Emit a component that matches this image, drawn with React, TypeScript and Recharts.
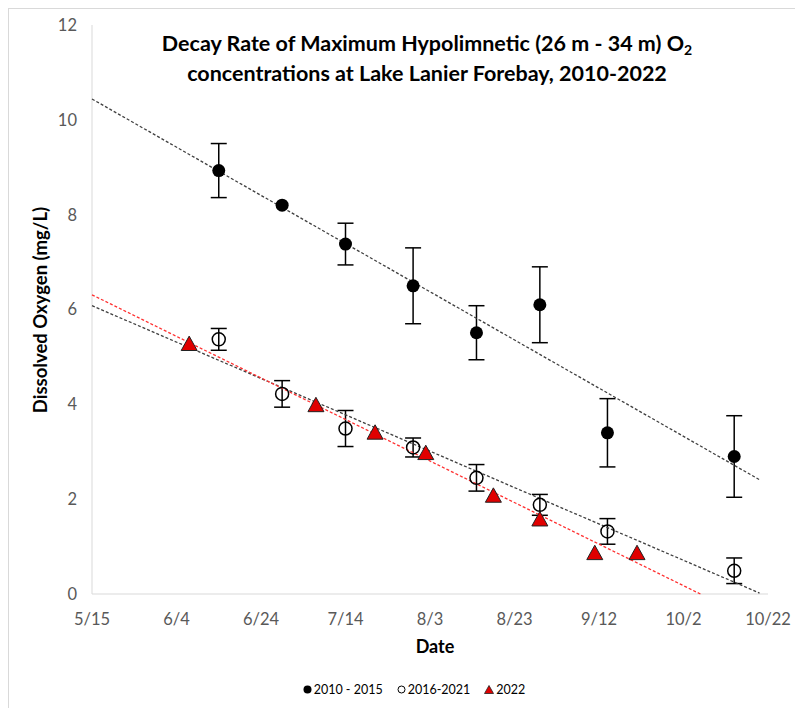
import { ScatterChart, Scatter, XAxis, YAxis, ErrorBar } from 'recharts'

// days since 5/15
const xTicks = [0, 20, 40, 60, 80, 100, 120, 140, 160]
const xTickLabels = ['5/15', '6/4', '6/24', '7/14', '8/3', '8/23', '9/12', '10/2', '10/22']
const yTicks = [0, 2, 4, 6, 8, 10, 12]

const surveyDays = [30, 45, 60, 76, 91, 106, 122, 152]
const o2Early = [8.93, 8.2, 7.38, 6.5, 5.51, 6.1, 3.4, 2.9]
const errEarly = [0.57, 0, 0.44, 0.8, 0.57, 0.8, 0.72, 0.86]
const o2Late = [5.37, 4.22, 3.49, 3.09, 2.45, 1.88, 1.32, 0.49]
const errLate = [0.23, 0.28, 0.38, 0.2, 0.28, 0.22, 0.27, 0.27]

const days2022 = [23, 53, 67, 79, 95, 106, 119, 129]
const o2_2022 = [5.27, 3.98, 3.4, 2.97, 2.07, 1.57, 0.86, 0.86]

// trendline end points
const trendDaysEarly = [0, 158]
const trendEarly = [10.44, 2.41]
const trendDaysLate = [0, 158]
const trendLate = [6.08, 0.02]
const trendDays2022 = [0, 144]
const trend2022 = [6.31, 0]

const FONT = 'Lato, "Open Sans", sans-serif'

const earlyData = surveyDays.map((d, i) => ({ x: d, y: o2Early[i], err: errEarly[i] }))
const lateData = surveyDays.map((d, i) => ({ x: d, y: o2Late[i], err: errLate[i] }))
const data2022 = days2022.map((d, i) => ({ x: d, y: o2_2022[i] }))
const toLine = (xs: number[], ys: number[]) => xs.map((x, i) => ({ x, y: ys[i] }))

const FilledDot = (p: any) => <circle cx={p.cx} cy={p.cy} r={6.5} fill="#000" />
const OpenDot = (p: any) => <circle cx={p.cx} cy={p.cy} r={6.5} fill="none" stroke="#000" strokeWidth={1.5} />
const Triangle = (p: any) => {
    const { cx, cy } = p
    const s = 8
    return (
        <polygon
            points={`${cx},${cy - s} ${cx + s},${cy + s * 0.8} ${cx - s},${cy + s * 0.8}`}
            fill="#e00000"
            stroke="#222"
            strokeWidth={1}
        />
    )
}
const NoDot = () => <g />

export default function App() {
    return (
        <div style={{ position: 'relative', width: 795, height: 700, fontFamily: FONT }}>
            <div style={{ position: 'absolute', left: 0, top: 0, width: 800, height: 710, borderLeft: '1px solid #d9d9d9', borderTop: '1px solid #d9d9d9', pointerEvents: 'none' }} />
            <ScatterChart width={795} height={700} margin={{ top: 17, right: 35, bottom: 54, left: 0 }}>
                <XAxis
                    type="number"
                    dataKey="x"
                    domain={[0, 160]}
                    ticks={xTicks}
                    tickFormatter={(v: number) => xTickLabels[xTicks.indexOf(v)] ?? ''}
                    stroke="#d9d9d9"
                    tickLine={false}
                    tickSize={0}
                    tickMargin={19}
                    height={60}
                    tick={{ fill: '#595959', fontSize: 16.5, fontFamily: FONT }}
                />
                <YAxis
                    type="number"
                    dataKey="y"
                    domain={[0, 12]}
                    ticks={yTicks}
                    stroke="#d9d9d9"
                    tickLine={false}
                    tickSize={0}
                    tickMargin={15}
                    width={84}
                    tick={{ fill: '#595959', fontSize: 16.5, fontFamily: FONT }}
                />
                <Scatter data={toLine(trendDaysEarly, trendEarly)} line={{ stroke: '#404040', strokeWidth: 1.3, strokeDasharray: '3 2' }} shape={NoDot} isAnimationActive={false} />
                <Scatter data={toLine(trendDaysLate, trendLate)} line={{ stroke: '#404040', strokeWidth: 1.3, strokeDasharray: '3 2' }} shape={NoDot} isAnimationActive={false} />
                <Scatter data={toLine(trendDays2022, trend2022)} line={{ stroke: '#ff3030', strokeWidth: 1.3, strokeDasharray: '3 2' }} shape={NoDot} isAnimationActive={false} />
                <Scatter data={earlyData} shape={FilledDot} isAnimationActive={false}>
                    <ErrorBar dataKey="err" direction="y" width={8} stroke="#000" strokeWidth={1.5} />
                </Scatter>
                <Scatter data={lateData} shape={OpenDot} isAnimationActive={false}>
                    <ErrorBar dataKey="err" direction="y" width={8} stroke="#000" strokeWidth={1.5} />
                </Scatter>
                <Scatter data={data2022} shape={Triangle} isAnimationActive={false} />
            </ScatterChart>

            <div style={{ position: 'absolute', left: 0, width: 838, top: 20, textAlign: 'center', fontWeight: 700, fontSize: 21.5, lineHeight: '30px', color: '#000' }}>
                Decay Rate of Maximum Hypolimnetic (26 m - 34 m) O<sub style={{ fontSize: 14, verticalAlign: -4, lineHeight: 0 }}>2</sub>
                <br />
                concentrations at Lake Lanier Forebay, 2010-2022
            </div>
            <div style={{ position: 'absolute', left: 32, top: 302, transform: 'translate(-50%, -50%) rotate(-90deg)', whiteSpace: 'nowrap', fontWeight: 700, fontSize: 18.5, color: '#000' }}>
                Dissolved Oxygen (mg/L)
            </div>
            <div style={{ position: 'absolute', left: 427, top: 638, transform: 'translate(-50%, -50%)', fontWeight: 700, fontSize: 18, color: '#000' }}>
                Date
            </div>
            <div style={{ position: 'absolute', left: 0, width: 812, top: 674, display: 'flex', justifyContent: 'center', gap: 14, fontSize: 12.5, color: '#000', alignItems: 'center' }}>
                <span style={{ display: 'flex', alignItems: 'center', gap: 2 }}>
                    <svg width={9} height={9}><circle cx={4.5} cy={4.5} r={4} fill="#000" /></svg>2010 - 2015
                </span>
                <span style={{ display: 'flex', alignItems: 'center', gap: 2 }}>
                    <svg width={9} height={9}><circle cx={4.5} cy={4.5} r={3.5} fill="none" stroke="#000" strokeWidth={1} /></svg>2016-2021
                </span>
                <span style={{ display: 'flex', alignItems: 'center', gap: 2 }}>
                    <svg width={10} height={9}><polygon points="5,0.5 9.5,8.5 0.5,8.5" fill="#e00000" stroke="#222" strokeWidth={0.8} /></svg>2022
                </span>
            </div>
        </div>
    )
}
